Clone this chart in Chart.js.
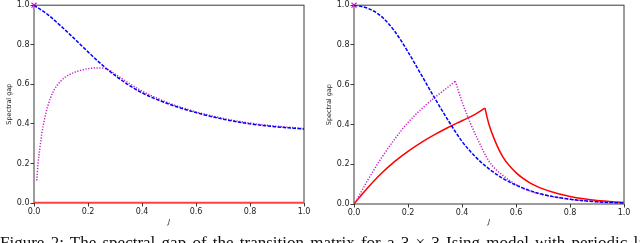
<!DOCTYPE html>
<html>
<head>
<meta charset="utf-8">
<script src="https://cdn.jsdelivr.net/npm/chart.js@4.4.1/dist/chart.umd.min.js"></script>
<style>
  body { margin: 0; width: 640px; height: 243px; overflow: hidden; background: #fff; position: relative; }
  .panel { position: absolute; top: 0; width: 320px; height: 243px; }
  #caption {
    position: absolute; left: 0; top: 234px; width: 700px;
    font-family: "Liberation Serif", "DejaVu Serif", serif; font-size: 17px; line-height: 17px;
    white-space: nowrap; color: #111; word-spacing: 2px;
  }
</style>
</head>
<body>
<div class="panel" style="left:0"><canvas id="left-gap" width="320" height="243"></canvas></div>
<div class="panel" style="left:320px"><canvas id="right-gap" width="320" height="243"></canvas></div>
<div id="caption">Figure 2: The spectral gap of the transition matrix for a 3 × 3 Ising model with periodic lattice</div>
<script>
// x-axis ticks (J) and y ticks
const xTicks = [0, 0.2, 0.4, 0.6, 0.8, 1.0];
const yTicks = [0, 0.2, 0.4, 0.6, 0.8, 1.0];

// left panel
const leftBlueJ = [0, 0.05, 0.1, 0.15, 0.2, 0.25, 0.3, 0.35, 0.4, 0.5, 0.6, 0.7, 0.8, 0.9, 1.0];
const leftBlue  = [1.0, 0.954, 0.894, 0.83, 0.764, 0.701, 0.645, 0.597, 0.557, 0.5, 0.457, 0.424, 0.4, 0.385, 0.374];
const leftMagJ  = [0.01, 0.015, 0.022, 0.03, 0.04, 0.05, 0.07, 0.1, 0.13, 0.17, 0.2, 0.235, 0.27, 0.3, 0.35, 0.4, 0.5, 0.6, 0.7, 0.8, 0.9, 1.0];
const leftMag   = [0.114, 0.2, 0.28, 0.36, 0.43, 0.485, 0.56, 0.618, 0.648, 0.67, 0.679, 0.683, 0.677, 0.652, 0.607, 0.566, 0.505, 0.461, 0.428, 0.404, 0.388, 0.377];
const leftRedJ  = [0, 1.0];
const leftRed   = [0, 0];

// right panel
const rightBlueJ = [0, 0.05, 0.1, 0.15, 0.2, 0.25, 0.3, 0.35, 0.4, 0.45, 0.5, 0.55, 0.6, 0.65, 0.7, 0.8, 0.9, 1.0];
const rightBlue  = [1.0, 0.985, 0.945, 0.87, 0.765, 0.648, 0.53, 0.418, 0.315, 0.237, 0.177, 0.13, 0.095, 0.068, 0.048, 0.024, 0.011, 0.005];
const rightMagJ  = [0.005, 0.02, 0.05, 0.1, 0.15, 0.2, 0.25, 0.3, 0.35, 0.375, 0.4, 0.43, 0.46, 0.5, 0.55, 0.6, 0.65, 0.7, 0.8, 0.9, 1.0];
const rightMag   = [0.01, 0.045, 0.118, 0.228, 0.325, 0.41, 0.478, 0.537, 0.59, 0.618, 0.515, 0.41, 0.32, 0.215, 0.145, 0.098, 0.066, 0.047, 0.024, 0.012, 0.006];
const rightRedJ  = [0, 0.05, 0.1, 0.15, 0.2, 0.25, 0.3, 0.35, 0.4, 0.45, 0.485, 0.5, 0.52, 0.55, 0.6, 0.65, 0.7, 0.75, 0.8, 0.85, 0.9, 1.0];
const rightRed   = [0, 0.08, 0.152, 0.213, 0.265, 0.31, 0.35, 0.386, 0.419, 0.452, 0.482, 0.40, 0.325, 0.24, 0.158, 0.108, 0.076, 0.054, 0.038, 0.026, 0.017, 0.008];

// the x marker at J=0
const markJ = [0];
const markV = [1.0];

const pts = (xs, ys) => xs.map((x, i) => ({ x: x, y: ys[i] }));

// split a curve at its peak so the kink stays sharp
function splitAtPeak(xs, ys) {
  const k = ys.indexOf(Math.max(...ys));
  return [pts(xs.slice(0, k + 1), ys.slice(0, k + 1)), pts(xs.slice(k), ys.slice(k))];
}

// frame round the axes (matplotlib spines)
const framePlugin = {
  id: 'frame',
  beforeDatasetsDraw(chart) {
    const a = chart.chartArea, ctx = chart.ctx;
    ctx.save();
    ctx.strokeStyle = '#3a3a3a';
    ctx.lineWidth = 1;
    ctx.strokeRect(a.left, a.top, a.right - a.left, a.bottom - a.top);
    ctx.restore();
  }
};

function line(data, color, width, dash) {
  return { data: data, showLine: true, borderColor: color, borderWidth: width, borderDash: dash || [],
           pointRadius: 0, cubicInterpolationMode: 'monotone' };
}

function makeChart(id, blue, mags, reds, redStyle, bottomH) {
  const ctx = document.getElementById(id).getContext('2d');
  const sets = [line(blue, '#0000ff', 1.5, [3.5, 1.5])];
  mags.forEach(m => sets.push(line(m, '#c41cc8', 1.5, [1.2, 1.6])));
  reds.forEach(r => sets.push(line(r, redStyle.color, redStyle.width)));
  sets.push({ data: pts(markJ, markV), showLine: false, pointStyle: 'crossRot', pointRadius: 3.5,
              borderColor: '#c41cc8', borderWidth: 1.2, clip: false });
  return new Chart(ctx, {
    type: 'scatter',
    data: { datasets: sets },
    options: {
      responsive: false,
      animation: false,
      layout: { padding: { left: 0, right: 16, top: 0, bottom: 0 } },
      plugins: { legend: { display: false }, tooltip: { enabled: false } },
      scales: {
        x: {
          type: 'linear', min: 0, max: 1,
          afterBuildTicks: s => { s.ticks = xTicks.map(v => ({ value: v })); },
          afterFit: s => { s.height = bottomH; },
          grid: { display: true, drawOnChartArea: false, drawTicks: true, tickLength: 3.5, color: '#3a3a3a' },
          border: { display: false },
          ticks: { padding: 1, maxRotation: 0, autoSkip: false, color: '#222', font: { family: 'DejaVu Sans', size: 8 }, callback: v => v.toFixed(1) },
          title: { display: true, text: 'J', color: '#222', font: { family: 'DejaVu Sans', size: 7, style: 'italic' }, padding: { top: 17, bottom: 17 } }
        },
        y: {
          type: 'linear', min: 0, max: 1,
          afterBuildTicks: s => { s.ticks = yTicks.map(v => ({ value: v })); },
          afterFit: s => { s.width = 34; s.paddingTop = 3.3; s.paddingBottom = 0; },
          grid: { display: true, drawOnChartArea: false, drawTicks: true, tickLength: 3.5, color: '#3a3a3a' },
          border: { display: false },
          ticks: { padding: 1, autoSkip: false, color: '#222', font: { family: 'DejaVu Sans', size: 8 }, callback: v => v.toFixed(1) },
          title: { display: true, text: 'Spectral gap', color: '#222', font: { family: 'DejaVu Sans', size: 6.5 }, padding: { top: 5, bottom: 0 } }
        }
      }
    },
    plugins: [framePlugin]
  });
}

makeChart('left-gap', pts(leftBlueJ, leftBlue), [pts(leftMagJ, leftMag)], [pts(leftRedJ, leftRed)],
          { color: '#ff4040', width: 2.4 }, 40);
makeChart('right-gap', pts(rightBlueJ, rightBlue), splitAtPeak(rightMagJ, rightMag), splitAtPeak(rightRedJ, rightRed),
          { color: '#ff0000', width: 1.5 }, 39);
</script>
</body>
</html>
